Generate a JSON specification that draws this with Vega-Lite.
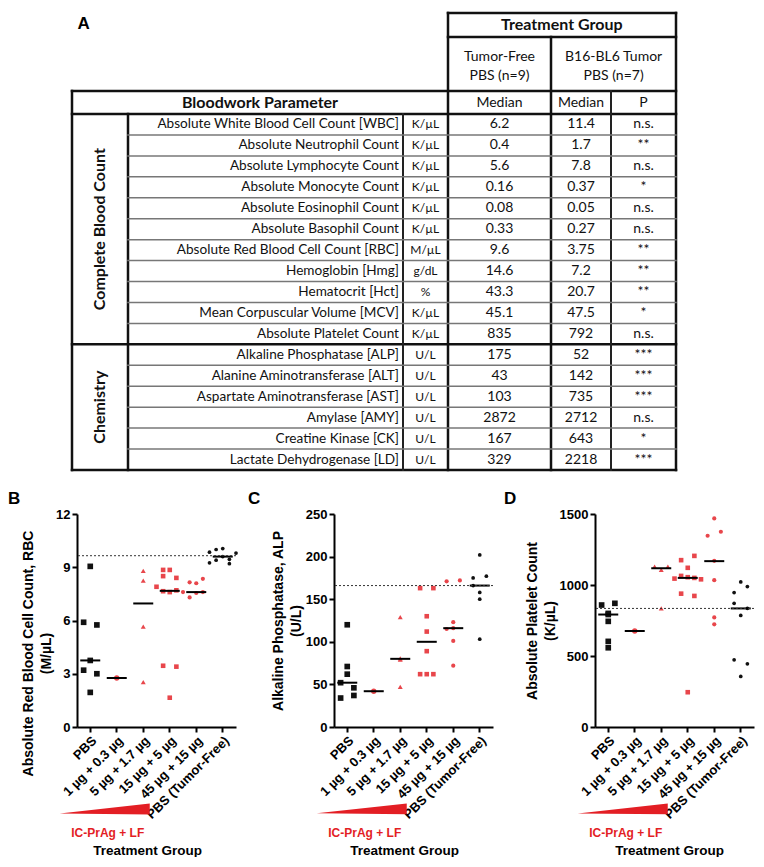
{
  "$schema": "https://vega.github.io/schema/vega-lite/v6.json",
  "background": "white",
  "padding": {"left": 8, "top": 0, "right": 0, "bottom": 0},
  "spacing": 18,
  "config": {
    "view": {"stroke": null},
    "font": "Liberation Sans",
    "axis": {
      "grid": false, "domainWidth": 2, "domainColor": "#000", "tickWidth": 2, "tickColor": "#000", "tickSize": 5,
      "labelFont": "Liberation Sans", "labelFontWeight": "bold", "labelColor": "#000", "labelPadding": 2,
      "titleFont": "Liberation Sans", "titleFontWeight": "bold", "titleColor": "#000", "titleFontSize": 14, "titleLineHeight": 18
    },
    "axisY": {"labelFontSize": 13, "titlePadding": 2},
    "axisX": {"labelFontSize": 13, "labelAngle": -45, "titlePadding": 22, "titleFontSize": 13.5}
  },
  "datasets": {
    "tbl": [
      {"row": 1, "grp": "Complete Blood Count", "param": "Absolute White Blood Cell Count [WBC]", "unit": "K/µL", "tf": "6.2", "tu": "11.4", "p": "n.s."},
      {"row": 2, "grp": "Complete Blood Count", "param": "Absolute Neutrophil Count", "unit": "K/µL", "tf": "0.4", "tu": "1.7", "p": "**"},
      {"row": 3, "grp": "Complete Blood Count", "param": "Absolute Lymphocyte Count", "unit": "K/µL", "tf": "5.6", "tu": "7.8", "p": "n.s."},
      {"row": 4, "grp": "Complete Blood Count", "param": "Absolute Monocyte Count", "unit": "K/µL", "tf": "0.16", "tu": "0.37", "p": "*"},
      {"row": 5, "grp": "Complete Blood Count", "param": "Absolute Eosinophil Count", "unit": "K/µL", "tf": "0.08", "tu": "0.05", "p": "n.s."},
      {"row": 6, "grp": "Complete Blood Count", "param": "Absolute Basophil Count", "unit": "K/µL", "tf": "0.33", "tu": "0.27", "p": "n.s."},
      {"row": 7, "grp": "Complete Blood Count", "param": "Absolute Red Blood Cell Count [RBC]", "unit": "M/µL", "tf": "9.6", "tu": "3.75", "p": "**"},
      {"row": 8, "grp": "Complete Blood Count", "param": "Hemoglobin [Hmg]", "unit": "g/dL", "tf": "14.6", "tu": "7.2", "p": "**"},
      {"row": 9, "grp": "Complete Blood Count", "param": "Hematocrit [Hct]", "unit": "%", "tf": "43.3", "tu": "20.7", "p": "**"},
      {"row": 10, "grp": "Complete Blood Count", "param": "Mean Corpuscular Volume [MCV]", "unit": "K/µL", "tf": "45.1", "tu": "47.5", "p": "*"},
      {"row": 11, "grp": "Complete Blood Count", "param": "Absolute Platelet Count", "unit": "K/µL", "tf": "835", "tu": "792", "p": "n.s."},
      {"row": 12, "grp": "Chemistry", "param": "Alkaline Phosphatase [ALP]", "unit": "U/L", "tf": "175", "tu": "52", "p": "***"},
      {"row": 13, "grp": "Chemistry", "param": "Alanine Aminotransferase [ALT]", "unit": "U/L", "tf": "43", "tu": "142", "p": "***"},
      {"row": 14, "grp": "Chemistry", "param": "Aspartate Aminotransferase [AST]", "unit": "U/L", "tf": "103", "tu": "735", "p": "***"},
      {"row": 15, "grp": "Chemistry", "param": "Amylase [AMY]", "unit": "U/L", "tf": "2872", "tu": "2712", "p": "n.s."},
      {"row": 16, "grp": "Chemistry", "param": "Creatine Kinase [CK]", "unit": "U/L", "tf": "167", "tu": "643", "p": "*"},
      {"row": 17, "grp": "Chemistry", "param": "Lactate Dehydrogenase [LD]", "unit": "U/L", "tf": "329", "tu": "2218", "p": "***"}
    ],
    "hdr": [
      {"label": "A", "col": 0.21, "row": -3.05, "kind": "letter"},
      {"label": "Treatment Group", "col": 4.18, "row": -3, "kind": "bold"},
      {"label": "Bloodwork Parameter", "col": 1.48, "row": 0, "kind": "bold"},
      {"label": "Tumor-Free\nPBS (n=9)", "col": 3.5, "row": -1.75, "kind": "normal"},
      {"label": "B16-BL6 Tumor\nPBS (n=7)", "col": 5.04, "row": -1.75, "kind": "normal"},
      {"label": "Median", "col": 3.5, "row": 0, "kind": "normal"},
      {"label": "Median", "col": 4.5, "row": 0, "kind": "normal"},
      {"label": "P", "col": 5.5, "row": 0, "kind": "normal"}
    ],
    "grid": [
      {"x": 3, "x2": 6, "y": -3.5, "y2": -3.5, "w": "thick"},
      {"x": 3, "x2": 6, "y": -2.5, "y2": -2.5, "w": "thick"},
      {"x": 0, "x2": 6, "y": -0.5, "y2": -0.5, "w": "thick"},
      {"x": 0, "x2": 6, "y": 0.5, "y2": 0.5, "w": "thick"},
      {"x": 0, "x2": 6, "y": 11.5, "y2": 11.5, "w": "thick"},
      {"x": 0, "x2": 6, "y": 17.5, "y2": 17.5, "w": "thick"},
      {"x": 0, "x2": 0, "y": -0.5, "y2": 17.5, "w": "thick"},
      {"x": 1, "x2": 1, "y": 0.5, "y2": 17.5, "w": "thick"},
      {"x": 2, "x2": 2, "y": 0.5, "y2": 17.5, "w": "thin"},
      {"x": 3, "x2": 3, "y": -3.5, "y2": 17.5, "w": "thick"},
      {"x": 4, "x2": 4, "y": -2.5, "y2": 17.5, "w": "thick"},
      {"x": 5, "x2": 5, "y": -0.5, "y2": 17.5, "w": "thin"},
      {"x": 6, "x2": 6, "y": -3.5, "y2": 17.5, "w": "thick"},
      {"x": 1, "x2": 6, "y": 1.5, "y2": 1.5, "w": "row"},
      {"x": 1, "x2": 6, "y": 2.5, "y2": 2.5, "w": "row"},
      {"x": 1, "x2": 6, "y": 3.5, "y2": 3.5, "w": "row"},
      {"x": 1, "x2": 6, "y": 4.5, "y2": 4.5, "w": "row"},
      {"x": 1, "x2": 6, "y": 5.5, "y2": 5.5, "w": "row"},
      {"x": 1, "x2": 6, "y": 6.5, "y2": 6.5, "w": "row"},
      {"x": 1, "x2": 6, "y": 7.5, "y2": 7.5, "w": "row"},
      {"x": 1, "x2": 6, "y": 8.5, "y2": 8.5, "w": "row"},
      {"x": 1, "x2": 6, "y": 9.5, "y2": 9.5, "w": "row"},
      {"x": 1, "x2": 6, "y": 10.5, "y2": 10.5, "w": "row"},
      {"x": 1, "x2": 6, "y": 12.5, "y2": 12.5, "w": "row"},
      {"x": 1, "x2": 6, "y": 13.5, "y2": 13.5, "w": "row"},
      {"x": 1, "x2": 6, "y": 14.5, "y2": 14.5, "w": "row"},
      {"x": 1, "x2": 6, "y": 15.5, "y2": 15.5, "w": "row"},
      {"x": 1, "x2": 6, "y": 16.5, "y2": 16.5, "w": "row"}
    ],
    "rbc": [
      {"group": "PBS", "v": 9.05, "j": 0}, {"group": "PBS", "v": 5.9, "j": -1}, {"group": "PBS", "v": 5.75, "j": 1}, {"group": "PBS", "v": 3.75, "j": 0}, {"group": "PBS", "v": 3.2, "j": -1}, {"group": "PBS", "v": 3.0, "j": 1}, {"group": "PBS", "v": 1.95, "j": 0},
      {"group": "1 µg + 0.3 µg", "v": 2.76, "j": 0},
      {"group": "5 µg + 1.7 µg", "v": 8.8, "j": 0}, {"group": "5 µg + 1.7 µg", "v": 8.25, "j": 0}, {"group": "5 µg + 1.7 µg", "v": 5.66, "j": 0}, {"group": "5 µg + 1.7 µg", "v": 2.53, "j": 0},
      {"group": "15 µg + 5 µg", "v": 8.85, "j": -1}, {"group": "15 µg + 5 µg", "v": 8.85, "j": 0}, {"group": "15 µg + 5 µg", "v": 8.5, "j": -1}, {"group": "15 µg + 5 µg", "v": 8.4, "j": 1}, {"group": "15 µg + 5 µg", "v": 7.9, "j": -2}, {"group": "15 µg + 5 µg", "v": 7.7, "j": 1}, {"group": "15 µg + 5 µg", "v": 7.65, "j": -1}, {"group": "15 µg + 5 µg", "v": 7.6, "j": 0}, {"group": "15 µg + 5 µg", "v": 3.45, "j": -1}, {"group": "15 µg + 5 µg", "v": 3.4, "j": 1}, {"group": "15 µg + 5 µg", "v": 1.65, "j": 0},
      {"group": "45 µg + 15 µg", "v": 8.35, "j": 1}, {"group": "45 µg + 15 µg", "v": 8.15, "j": -1}, {"group": "45 µg + 15 µg", "v": 8.1, "j": 0}, {"group": "45 µg + 15 µg", "v": 7.6, "j": -2}, {"group": "45 µg + 15 µg", "v": 7.6, "j": 1}, {"group": "45 µg + 15 µg", "v": 7.55, "j": 0}, {"group": "45 µg + 15 µg", "v": 7.3, "j": -1},
      {"group": "PBS (Tumor-Free)", "v": 10.05, "j": 0}, {"group": "PBS (Tumor-Free)", "v": 10.0, "j": -1}, {"group": "PBS (Tumor-Free)", "v": 9.85, "j": -2}, {"group": "PBS (Tumor-Free)", "v": 9.8, "j": 2}, {"group": "PBS (Tumor-Free)", "v": 9.6, "j": 0}, {"group": "PBS (Tumor-Free)", "v": 9.45, "j": 1}, {"group": "PBS (Tumor-Free)", "v": 9.4, "j": -1}, {"group": "PBS (Tumor-Free)", "v": 9.25, "j": -2}, {"group": "PBS (Tumor-Free)", "v": 9.2, "j": 1}
    ],
    "rbcMed": [
      {"group": "PBS", "v": 3.75}, {"group": "1 µg + 0.3 µg", "v": 2.76}, {"group": "5 µg + 1.7 µg", "v": 6.96}, {"group": "15 µg + 5 µg", "v": 7.67}, {"group": "45 µg + 15 µg", "v": 7.6}, {"group": "PBS (Tumor-Free)", "v": 9.6}
    ],
    "alp": [
      {"group": "PBS", "v": 120, "j": 0}, {"group": "PBS", "v": 71, "j": 0}, {"group": "PBS", "v": 62, "j": 0}, {"group": "PBS", "v": 52, "j": -1}, {"group": "PBS", "v": 46, "j": 1}, {"group": "PBS", "v": 37, "j": 1}, {"group": "PBS", "v": 34, "j": -1},
      {"group": "1 µg + 0.3 µg", "v": 42, "j": 0},
      {"group": "5 µg + 1.7 µg", "v": 129, "j": 0}, {"group": "5 µg + 1.7 µg", "v": 80.5, "j": 0}, {"group": "5 µg + 1.7 µg", "v": 79, "j": 0}, {"group": "5 µg + 1.7 µg", "v": 47, "j": 0},
      {"group": "15 µg + 5 µg", "v": 163, "j": -1}, {"group": "15 µg + 5 µg", "v": 163, "j": 1}, {"group": "15 µg + 5 µg", "v": 130, "j": 0}, {"group": "15 µg + 5 µg", "v": 112, "j": 0}, {"group": "15 µg + 5 µg", "v": 89, "j": 0}, {"group": "15 µg + 5 µg", "v": 62, "j": -1}, {"group": "15 µg + 5 µg", "v": 62, "j": 0}, {"group": "15 µg + 5 µg", "v": 62, "j": 1},
      {"group": "45 µg + 15 µg", "v": 172, "j": 1}, {"group": "45 µg + 15 µg", "v": 171, "j": -1}, {"group": "45 µg + 15 µg", "v": 123, "j": 0}, {"group": "45 µg + 15 µg", "v": 116, "j": 0}, {"group": "45 µg + 15 µg", "v": 115, "j": -1}, {"group": "45 µg + 15 µg", "v": 101, "j": 0}, {"group": "45 µg + 15 µg", "v": 72, "j": 0},
      {"group": "PBS (Tumor-Free)", "v": 202, "j": 0}, {"group": "PBS (Tumor-Free)", "v": 177, "j": 1}, {"group": "PBS (Tumor-Free)", "v": 175, "j": -1}, {"group": "PBS (Tumor-Free)", "v": 166, "j": -1}, {"group": "PBS (Tumor-Free)", "v": 158, "j": 0}, {"group": "PBS (Tumor-Free)", "v": 150, "j": 0}, {"group": "PBS (Tumor-Free)", "v": 103, "j": 0}
    ],
    "alpMed": [
      {"group": "PBS", "v": 52}, {"group": "1 µg + 0.3 µg", "v": 42}, {"group": "5 µg + 1.7 µg", "v": 80}, {"group": "15 µg + 5 µg", "v": 100}, {"group": "45 µg + 15 µg", "v": 116}, {"group": "PBS (Tumor-Free)", "v": 166}
    ],
    "plt": [
      {"group": "PBS", "v": 871, "j": 1}, {"group": "PBS", "v": 859, "j": -1}, {"group": "PBS", "v": 800, "j": 0}, {"group": "PBS", "v": 792, "j": 0}, {"group": "PBS", "v": 744, "j": 0}, {"group": "PBS", "v": 603, "j": 0}, {"group": "PBS", "v": 558, "j": 0},
      {"group": "1 µg + 0.3 µg", "v": 676, "j": 0},
      {"group": "5 µg + 1.7 µg", "v": 1130, "j": -1}, {"group": "5 µg + 1.7 µg", "v": 1107, "j": 0}, {"group": "5 µg + 1.7 µg", "v": 1130, "j": 1}, {"group": "5 µg + 1.7 µg", "v": 836, "j": 0},
      {"group": "15 µg + 5 µg", "v": 1205, "j": 1}, {"group": "15 µg + 5 µg", "v": 1175, "j": -1}, {"group": "15 µg + 5 µg", "v": 1121, "j": 0}, {"group": "15 µg + 5 µg", "v": 1064, "j": -1}, {"group": "15 µg + 5 µg", "v": 1055, "j": 0}, {"group": "15 µg + 5 µg", "v": 1050, "j": 1}, {"group": "15 µg + 5 µg", "v": 1045, "j": -2}, {"group": "15 µg + 5 µg", "v": 1040, "j": 2}, {"group": "15 µg + 5 µg", "v": 939, "j": -1}, {"group": "15 µg + 5 µg", "v": 923, "j": 1}, {"group": "15 µg + 5 µg", "v": 245, "j": 0},
      {"group": "45 µg + 15 µg", "v": 1469, "j": 0}, {"group": "45 µg + 15 µg", "v": 1375, "j": 1}, {"group": "45 µg + 15 µg", "v": 1347, "j": -1}, {"group": "45 µg + 15 µg", "v": 1170, "j": 0}, {"group": "45 µg + 15 µg", "v": 1034, "j": 0}, {"group": "45 µg + 15 µg", "v": 772, "j": 0}, {"group": "45 µg + 15 µg", "v": 723, "j": 0},
      {"group": "PBS (Tumor-Free)", "v": 1022, "j": 0}, {"group": "PBS (Tumor-Free)", "v": 989, "j": 1}, {"group": "PBS (Tumor-Free)", "v": 947, "j": -1}, {"group": "PBS (Tumor-Free)", "v": 871, "j": -1}, {"group": "PBS (Tumor-Free)", "v": 836, "j": 1}, {"group": "PBS (Tumor-Free)", "v": 786, "j": 0}, {"group": "PBS (Tumor-Free)", "v": 473, "j": -1}, {"group": "PBS (Tumor-Free)", "v": 445, "j": 1}, {"group": "PBS (Tumor-Free)", "v": 356, "j": 0}
    ],
    "pltMed": [
      {"group": "PBS", "v": 792}, {"group": "1 µg + 0.3 µg", "v": 676}, {"group": "5 µg + 1.7 µg", "v": 1118}, {"group": "15 µg + 5 µg", "v": 1050}, {"group": "45 µg + 15 µg", "v": 1168}, {"group": "PBS (Tumor-Free)", "v": 835}
    ]
  },
  "vconcat": [
    {
      "width": 600,
      "height": 472,
      "layer": [
        {
          "data": {"name": "grid"},
          "mark": {"type": "rule", "strokeCap": "square"},
          "encoding": {
            "x": {"field": "x", "type": "quantitative", "scale": {"domain": [0, 1, 2, 3, 4, 5, 6], "range": [-5, 51, 326, 371, 474, 534, 599], "zero": false, "nice": false}, "axis": null},
            "x2": {"field": "x2"},
            "y": {"field": "y", "type": "quantitative", "scale": {"domain": [-3.5, -2.5, -0.5, 0.5, 17.5], "range": [13, 37, 91, 114, 470], "zero": false, "nice": false}, "axis": null},
            "y2": {"field": "y2"},
            "strokeWidth": {"field": "w", "type": "nominal", "scale": {"domain": ["thick", "thin", "row"], "range": [2.5, 1.5, 1]}, "legend": null},
            "color": {"field": "w", "type": "nominal", "scale": {"domain": ["thick", "thin", "row"], "range": ["#111111", "#222222", "#777777"]}, "legend": null}
          }
        },
        {
          "data": {"name": "tbl"},
          "mark": {"type": "text", "align": "right", "baseline": "middle", "dx": -4, "font": "Lato", "fontSize": 13.6, "color": "#111"},
          "encoding": {"x": {"datum": 2, "type": "quantitative"}, "y": {"field": "row", "type": "quantitative"}, "text": {"field": "param"}}
        },
        {
          "data": {"name": "tbl"},
          "mark": {"type": "text", "align": "center", "baseline": "middle", "font": "Lato", "fontSize": 12, "color": "#111"},
          "encoding": {"x": {"datum": 2.5, "type": "quantitative"}, "y": {"field": "row", "type": "quantitative"}, "text": {"field": "unit"}}
        },
        {
          "data": {"name": "tbl"},
          "mark": {"type": "text", "align": "center", "baseline": "middle", "font": "Lato", "fontSize": 14, "color": "#111"},
          "encoding": {"x": {"datum": 3.5, "type": "quantitative"}, "y": {"field": "row", "type": "quantitative"}, "text": {"field": "tf"}}
        },
        {
          "data": {"name": "tbl"},
          "mark": {"type": "text", "align": "center", "baseline": "middle", "font": "Lato", "fontSize": 14, "color": "#111"},
          "encoding": {"x": {"datum": 4.5, "type": "quantitative"}, "y": {"field": "row", "type": "quantitative"}, "text": {"field": "tu"}}
        },
        {
          "data": {"name": "tbl"},
          "mark": {"type": "text", "align": "center", "baseline": "middle", "font": "Lato", "fontSize": 14, "color": "#111"},
          "encoding": {"x": {"datum": 5.5, "type": "quantitative"}, "y": {"field": "row", "type": "quantitative"}, "text": {"field": "p"}}
        },
        {
          "data": {"name": "tbl"},
          "transform": [{"aggregate": [{"op": "mean", "field": "row", "as": "mid"}], "groupby": ["grp"]}],
          "mark": {"type": "text", "align": "center", "baseline": "middle", "angle": 270, "font": "Lato", "fontWeight": "bold", "fontSize": 16, "color": "#111"},
          "encoding": {"x": {"datum": 0.5, "type": "quantitative"}, "y": {"field": "mid", "type": "quantitative"}, "text": {"field": "grp"}}
        },
        {
          "data": {"name": "hdr"},
          "transform": [{"filter": "datum.kind === 'bold'"}],
          "mark": {"type": "text", "align": "center", "baseline": "middle", "font": "Lato", "fontWeight": "bold", "fontSize": 16, "color": "#111"},
          "encoding": {"x": {"field": "col", "type": "quantitative"}, "y": {"field": "row", "type": "quantitative"}, "text": {"field": "label"}}
        },
        {
          "data": {"name": "hdr"},
          "transform": [{"filter": "datum.kind === 'normal'"}],
          "mark": {"type": "text", "align": "center", "baseline": "middle", "font": "Lato", "fontSize": 14, "lineBreak": "\n", "lineHeight": 19, "color": "#111"},
          "encoding": {"x": {"field": "col", "type": "quantitative"}, "y": {"field": "row", "type": "quantitative"}, "text": {"field": "label"}}
        },
        {
          "data": {"name": "hdr"},
          "transform": [{"filter": "datum.kind === 'letter'"}],
          "mark": {"type": "text", "align": "center", "baseline": "middle", "font": "Liberation Sans", "fontWeight": "bold", "fontSize": 17, "color": "#000"},
          "encoding": {"x": {"field": "col", "type": "quantitative"}, "y": {"field": "row", "type": "quantitative"}, "text": {"field": "label"}}
        }
      ]
    },
    {
      "spacing": 10,
      "hconcat": [
        {
          "width": 159, "height": 213,
          "title": {"text": "B", "anchor": "start", "frame": "group", "dx": -69, "offset": 0, "fontSize": 17, "font": "Liberation Sans", "fontWeight": "bold", "color": "#000"},
          "layer": [
            {
              "data": {"name": "rbc"},
              "mark": {"type": "point", "filled": true, "opacity": 1, "fillOpacity": 1, "strokeWidth": 0},
              "encoding": {
                "x": {"field": "group", "type": "nominal", "sort": null, "scale": {"type": "band", "domain": ["PBS", "1 µg + 0.3 µg", "5 µg + 1.7 µg", "15 µg + 5 µg", "45 µg + 15 µg", "PBS (Tumor-Free)"], "paddingInner": 0, "paddingOuter": 0}, "axis": {"title": "Treatment Group", "labelFontSize": 13, "labelAngle": -45, "titlePadding": 22, "titleX": 70}},
                "xOffset": {"field": "j", "type": "ordinal", "scale": {"domain": [-2, -1, 0, 1, 2], "paddingInner": 0, "paddingOuter": 0}},
                "y": {"field": "v", "type": "quantitative", "scale": {"domain": [0, 12], "nice": false}, "axis": {"values": [0, 3, 6, 9, 12], "title": ["Absolute Red Blood Cell Count, RBC", "(M/µL)"], "titleY": 139}},
                "shape": {"field": "group", "type": "nominal", "scale": {"domain": ["PBS", "1 µg + 0.3 µg", "5 µg + 1.7 µg", "15 µg + 5 µg", "45 µg + 15 µg", "PBS (Tumor-Free)"], "range": ["square", "circle", "triangle-up", "square", "circle", "circle"]}, "legend": null},
                "fill": {"field": "group", "type": "nominal", "scale": {"domain": ["PBS", "1 µg + 0.3 µg", "5 µg + 1.7 µg", "15 µg + 5 µg", "45 µg + 15 µg", "PBS (Tumor-Free)"], "range": ["#111111", "#e8464b", "#e8464b", "#e8464b", "#e8464b", "#111111"]}, "legend": null},
                "size": {"field": "group", "type": "nominal", "scale": {"domain": ["PBS", "1 µg + 0.3 µg", "5 µg + 1.7 µg", "15 µg + 5 µg", "45 µg + 15 µg", "PBS (Tumor-Free)"], "range": [32, 14, 26, 32, 16, 32]}, "legend": null}
              }
            },
            {
              "data": {"name": "rbcMed"},
              "mark": {"type": "tick", "thickness": 2, "size": 20, "color": "#000", "opacity": 1},
              "encoding": {"x": {"field": "group", "type": "nominal", "sort": null}, "y": {"field": "v", "type": "quantitative"}}
            },
            {
              "data": {"values": [{}]},
              "mark": {"type": "rule", "strokeDash": [2, 2], "color": "#333", "strokeWidth": 1},
              "encoding": {"y": {"datum": 9.65}}
            },
            {
              "data": {"values": [{}]},
              "mark": {"type": "point", "shape": "M-1,0.1L1,0.12L1,-0.12Z", "filled": true, "color": "#e31e24", "size": 8100, "opacity": 1, "xOffset": -12},
              "encoding": {"x": {"datum": "1 µg + 0.3 µg"}, "y": {"datum": -4.62}}
            },
            {
              "data": {"values": [{"t": "IC-PrAg + LF"}]},
              "mark": {"type": "text", "font": "Liberation Sans", "fontWeight": "bold", "fontSize": 12, "color": "#e31e24", "dx": -9, "baseline": "middle"},
              "encoding": {"x": {"datum": "1 µg + 0.3 µg"}, "y": {"datum": -5.97}, "text": {"field": "t"}}
            }
          ]
        },
        {
          "width": 159, "height": 213,
          "title": {"text": "C", "anchor": "start", "frame": "group", "dx": -86, "offset": 0, "fontSize": 17, "font": "Liberation Sans", "fontWeight": "bold", "color": "#000"},
          "layer": [
            {
              "data": {"name": "alp"},
              "mark": {"type": "point", "filled": true, "opacity": 1, "fillOpacity": 1, "strokeWidth": 0},
              "encoding": {
                "x": {"field": "group", "type": "nominal", "sort": null, "scale": {"type": "band", "domain": ["PBS", "1 µg + 0.3 µg", "5 µg + 1.7 µg", "15 µg + 5 µg", "45 µg + 15 µg", "PBS (Tumor-Free)"], "paddingInner": 0, "paddingOuter": 0}, "axis": {"title": "Treatment Group", "labelFontSize": 13, "labelAngle": -45, "titlePadding": 22, "titleX": 70}},
                "xOffset": {"field": "j", "type": "ordinal", "scale": {"domain": [-2, -1, 0, 1, 2], "paddingInner": 0, "paddingOuter": 0}},
                "y": {"field": "v", "type": "quantitative", "scale": {"domain": [0, 250], "nice": false}, "axis": {"values": [0, 50, 100, 150, 200, 250], "title": ["Alkaline Phosphatase, ALP", "(U/L)"]}},
                "shape": {"field": "group", "type": "nominal", "scale": {"domain": ["PBS", "1 µg + 0.3 µg", "5 µg + 1.7 µg", "15 µg + 5 µg", "45 µg + 15 µg", "PBS (Tumor-Free)"], "range": ["square", "circle", "triangle-up", "square", "circle", "circle"]}, "legend": null},
                "fill": {"field": "group", "type": "nominal", "scale": {"domain": ["PBS", "1 µg + 0.3 µg", "5 µg + 1.7 µg", "15 µg + 5 µg", "45 µg + 15 µg", "PBS (Tumor-Free)"], "range": ["#111111", "#e8464b", "#e8464b", "#e8464b", "#e8464b", "#111111"]}, "legend": null},
                "size": {"field": "group", "type": "nominal", "scale": {"domain": ["PBS", "1 µg + 0.3 µg", "5 µg + 1.7 µg", "15 µg + 5 µg", "45 µg + 15 µg", "PBS (Tumor-Free)"], "range": [32, 14, 26, 32, 16, 32]}, "legend": null}
              }
            },
            {
              "data": {"name": "alpMed"},
              "mark": {"type": "tick", "thickness": 2, "size": 20, "color": "#000", "opacity": 1},
              "encoding": {"x": {"field": "group", "type": "nominal", "sort": null}, "y": {"field": "v", "type": "quantitative"}}
            },
            {
              "data": {"values": [{}]},
              "mark": {"type": "rule", "strokeDash": [2, 2], "color": "#333", "strokeWidth": 1},
              "encoding": {"y": {"datum": 166}}
            },
            {
              "data": {"values": [{}]},
              "mark": {"type": "point", "shape": "M-1,0.1L1,0.12L1,-0.12Z", "filled": true, "color": "#e31e24", "size": 8100, "opacity": 1, "xOffset": -12},
              "encoding": {"x": {"datum": "1 µg + 0.3 µg"}, "y": {"datum": -96}}
            },
            {
              "data": {"values": [{"t": "IC-PrAg + LF"}]},
              "mark": {"type": "text", "font": "Liberation Sans", "fontWeight": "bold", "fontSize": 12, "color": "#e31e24", "dx": -9, "baseline": "middle"},
              "encoding": {"x": {"datum": "1 µg + 0.3 µg"}, "y": {"datum": -124.4}, "text": {"field": "t"}}
            }
          ]
        },
        {
          "width": 159, "height": 213,
          "title": {"text": "D", "anchor": "start", "frame": "group", "dx": -91, "offset": 0, "fontSize": 17, "font": "Liberation Sans", "fontWeight": "bold", "color": "#000"},
          "layer": [
            {
              "data": {"name": "plt"},
              "mark": {"type": "point", "filled": true, "opacity": 1, "fillOpacity": 1, "strokeWidth": 0},
              "encoding": {
                "x": {"field": "group", "type": "nominal", "sort": null, "scale": {"type": "band", "domain": ["PBS", "1 µg + 0.3 µg", "5 µg + 1.7 µg", "15 µg + 5 µg", "45 µg + 15 µg", "PBS (Tumor-Free)"], "paddingInner": 0, "paddingOuter": 0}, "axis": {"title": "Treatment Group", "labelFontSize": 13, "labelAngle": -45, "titlePadding": 22, "titleX": 74}},
                "xOffset": {"field": "j", "type": "ordinal", "scale": {"domain": [-2, -1, 0, 1, 2], "paddingInner": 0, "paddingOuter": 0}},
                "y": {"field": "v", "type": "quantitative", "scale": {"domain": [0, 1500], "nice": false}, "axis": {"values": [0, 250, 500, 750, 1000, 1250, 1500], "format": "d", "title": ["Absolute Platelet Count", "(K/µL)"]}},
                "shape": {"field": "group", "type": "nominal", "scale": {"domain": ["PBS", "1 µg + 0.3 µg", "5 µg + 1.7 µg", "15 µg + 5 µg", "45 µg + 15 µg", "PBS (Tumor-Free)"], "range": ["square", "circle", "triangle-up", "square", "circle", "circle"]}, "legend": null},
                "fill": {"field": "group", "type": "nominal", "scale": {"domain": ["PBS", "1 µg + 0.3 µg", "5 µg + 1.7 µg", "15 µg + 5 µg", "45 µg + 15 µg", "PBS (Tumor-Free)"], "range": ["#111111", "#e8464b", "#e8464b", "#e8464b", "#e8464b", "#111111"]}, "legend": null},
                "size": {"field": "group", "type": "nominal", "scale": {"domain": ["PBS", "1 µg + 0.3 µg", "5 µg + 1.7 µg", "15 µg + 5 µg", "45 µg + 15 µg", "PBS (Tumor-Free)"], "range": [32, 14, 26, 32, 16, 32]}, "legend": null}
              }
            },
            {
              "data": {"name": "pltMed"},
              "mark": {"type": "tick", "thickness": 2, "size": 20, "color": "#000", "opacity": 1},
              "encoding": {"x": {"field": "group", "type": "nominal", "sort": null}, "y": {"field": "v", "type": "quantitative"}}
            },
            {
              "data": {"values": [{}]},
              "mark": {"type": "rule", "strokeDash": [2, 2], "color": "#333", "strokeWidth": 1},
              "encoding": {"y": {"datum": 835}}
            },
            {
              "data": {"values": [{}]},
              "mark": {"type": "point", "shape": "M-1,0.1L1,0.12L1,-0.12Z", "filled": true, "color": "#e31e24", "size": 8100, "opacity": 1, "xOffset": -12},
              "encoding": {"x": {"datum": "1 µg + 0.3 µg"}, "y": {"datum": -577}}
            },
            {
              "data": {"values": [{"t": "IC-PrAg + LF"}]},
              "mark": {"type": "text", "font": "Liberation Sans", "fontWeight": "bold", "fontSize": 12, "color": "#e31e24", "dx": -9, "baseline": "middle"},
              "encoding": {"x": {"datum": "1 µg + 0.3 µg"}, "y": {"datum": -746.5}, "text": {"field": "t"}}
            }
          ]
        }
      ]
    }
  ]
}
